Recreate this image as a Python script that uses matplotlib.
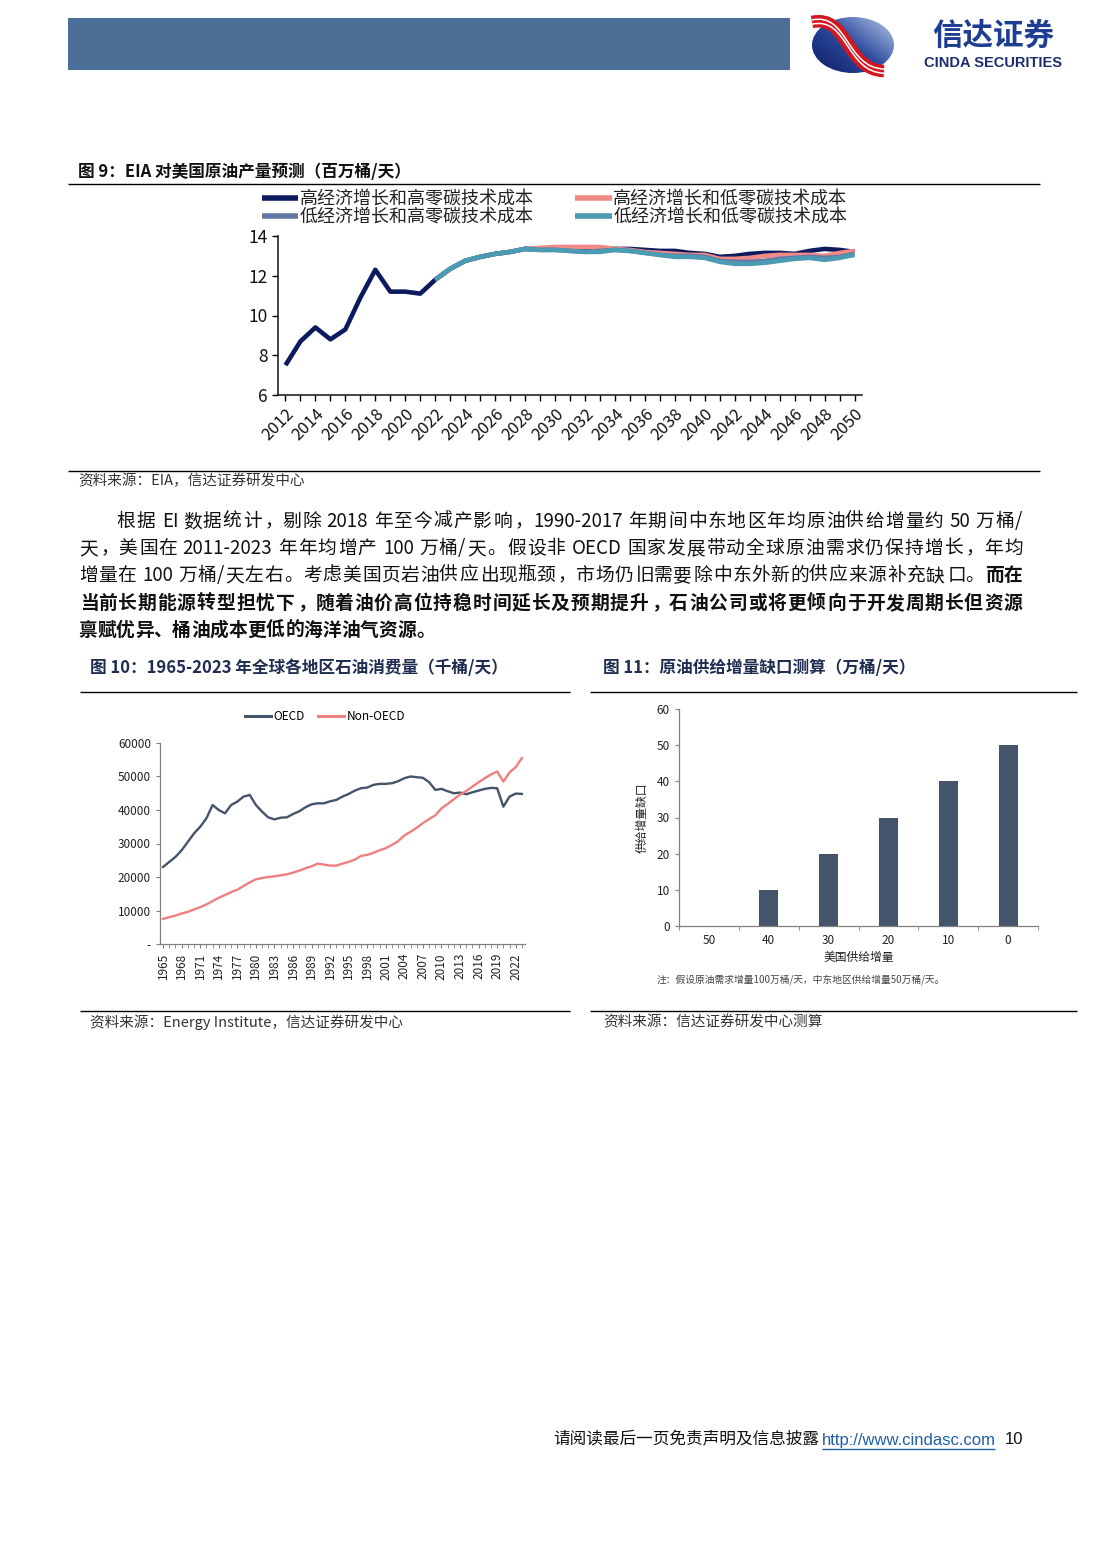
import numpy as np
import matplotlib
matplotlib.use('Agg')
import matplotlib.pyplot as plt
from matplotlib.patches import Rectangle, Ellipse, PathPatch
from matplotlib.path import Path
from matplotlib.colors import LinearSegmentedColormap
from matplotlib.font_manager import FontProperties, findfont, get_font
from matplotlib.ticker import FuncFormatter, MultipleLocator

# ---------------- data ----------------
# Fig 9: EIA US crude production forecast (million b/d)
years9 = list(range(2012, 2051))
hist9 = [7.5, 8.7, 9.4, 8.8, 9.3, 10.9, 12.3, 11.2, 11.2, 11.1, 11.8]          # 2012-2022
proj_years9 = list(range(2022, 2051))
hi_hi = [11.8, 12.35, 12.75, 12.95, 13.1, 13.2, 13.35, 13.35, 13.35, 13.3, 13.3, 13.35, 13.35, 13.35,
         13.3, 13.25, 13.25, 13.15, 13.1, 12.95, 13.0, 13.1, 13.15, 13.15, 13.1, 13.25, 13.35, 13.3, 13.2]
hi_lo = [11.8, 12.35, 12.75, 12.95, 13.1, 13.2, 13.35, 13.4, 13.45, 13.45, 13.45, 13.45, 13.35, 13.3,
         13.2, 13.15, 13.1, 13.05, 13.05, 12.85, 12.85, 12.9, 13.0, 13.05, 13.05, 13.05, 13.0, 13.15, 13.25]
lo_hi = [11.8, 12.35, 12.75, 12.95, 13.1, 13.2, 13.35, 13.3, 13.3, 13.25, 13.2, 13.25, 13.3, 13.25,
         13.15, 13.05, 13.0, 13.0, 12.95, 12.75, 12.7, 12.7, 12.75, 12.85, 12.9, 12.95, 12.9, 12.95, 13.1]
lo_lo = [11.8, 12.35, 12.75, 12.95, 13.1, 13.2, 13.35, 13.3, 13.3, 13.25, 13.2, 13.2, 13.3, 13.25,
         13.15, 13.05, 12.95, 12.95, 12.9, 12.7, 12.6, 12.6, 12.65, 12.75, 12.85, 12.9, 12.8, 12.9, 13.05]
labels9 = ['高经济增长和高零碳技术成本', '高经济增长和低零碳技术成本',
           '低经济增长和高零碳技术成本', '低经济增长和低零碳技术成本']

# Fig 10: oil consumption by region (kb/d)
years10 = list(range(1965, 2024))
oecd = [23000, 24500, 26000, 28000, 30500, 33000, 35000, 37500, 41500, 40000, 39000, 41500, 42500, 44000,
        44500, 41500, 39500, 37800, 37200, 37700, 37800, 38800, 39600, 40800, 41700, 42000, 42000, 42600,
        43000, 44000, 44800, 45800, 46500, 46700, 47500, 47800, 47800, 48000, 48600, 49500, 50000, 49800,
        49600, 48300, 46000, 46300, 45600, 45000, 45200, 44700, 45300, 45800, 46300, 46600, 46500, 41000,
        44000, 44900, 44800]
non_oecd = [7500, 8000, 8500, 9100, 9600, 10300, 11000, 11800, 12800, 13800, 14600, 15500, 16200, 17300,
            18400, 19300, 19700, 20000, 20200, 20500, 20800, 21300, 21900, 22600, 23200, 24000, 23700, 23400,
            23400, 24000, 24500, 25200, 26300, 26600, 27200, 28000, 28600, 29600, 30700, 32400, 33500, 34700,
            36100, 37300, 38400, 40500, 41800, 43200, 44600, 45700, 47000, 48300, 49500, 50600, 51500, 48500,
            51200, 52800, 55500]

# Fig 11: supply gap (10k b/d)
us_supply = ['50', '40', '30', '20', '10', '0']
supply_gap = [0, 10, 20, 30, 40, 50]

# ---------------- figure ----------------
W, H = 1102, 1559
CJK = 'Noto Sans CJK SC'
plt.rcParams['font.family'] = [CJK, 'DejaVu Sans']
plt.rcParams['axes.unicode_minus'] = False

fig = plt.figure(figsize=(W / 100, H / 100), dpi=100)
ov = fig.add_axes([0, 0, 1, 1])
ov.set_xlim(0, W)
ov.set_ylim(H, 0)
ov.axis('off')


def rect(x0, y0, x1, y1):
    return [x0 / W, 1 - y1 / H, (x1 - x0) / W, (y1 - y0) / H]


def hline(x0, x1, y, lw=1.0, color='black'):
    ov.plot([x0, x1], [y, y], color=color, lw=lw, solid_capstyle='butt')


# ---------------- header ----------------
ov.add_patch(Rectangle((68, 18), 722, 52, color='#4C6F98', lw=0))
ell = Ellipse((853, 45), 82, 56, fc='none', ec='none')
ov.add_patch(ell)
gx, gy = np.meshgrid(np.linspace(0, 1, 80), np.linspace(0, 1, 60))
Z = gx * 0.7 + (1 - gy) * 0.6
cmap = LinearSegmentedColormap.from_list('lg', ['#0E1C63', '#2B4A9E', '#B9C7E6'])
im = ov.imshow(Z, extent=(812, 894, 73, 17), cmap=cmap, origin='upper', aspect='auto', zorder=2)
im.set_clip_path(ell)
band_pts = [(812, 22), (848, 14), (846, 70), (884, 71)]
codes = [Path.MOVETO, Path.CURVE4, Path.CURVE4, Path.CURVE4]
ov.add_patch(PathPatch(Path(band_pts, codes), fc='none', ec='#D4161E', lw=9, zorder=3, capstyle='butt'))
for dy in (-2.0, 2.2):
    pts = [(x, y + dy) for x, y in band_pts]
    ov.add_patch(PathPatch(Path(pts, codes), fc='none', ec='white', lw=1.1, zorder=4, capstyle='butt'))
ov.set_xlim(0, W)
ov.set_ylim(H, 0)
ov.text(993, 36, '信达证券', fontsize=22, fontweight='bold', color='#1E3E92', ha='center', va='center')
ov.text(993, 63, 'CINDA SECURITIES', fontsize=10.5, fontweight='bold', family='Liberation Sans',
        color='#1B2D6E', ha='center', va='center')

# ---------------- figure 9 ----------------
ov.text(78, 172, '图 9：EIA 对美国原油产量预测（百万桶/天）', fontsize=12, fontweight='bold',
        color='#111111', va='center')
hline(68, 1040, 184)
hline(68, 1040, 471)
ov.text(78, 481, '资料来源：EIA，信达证券研发中心', fontsize=10.5, color='#333333', va='center')

ax9 = fig.add_axes(rect(278, 236, 862, 395), facecolor='none')
c_hh, c_hl, c_lh, c_ll = '#0D1B5E', '#F08A86', '#6677A6', '#4A9BB3'
lw9 = 3.3
l_hh, = ax9.plot(years9, hist9 + hi_hi[1:], color=c_hh, lw=lw9, solid_joinstyle='round', solid_capstyle='butt')
l_hl, = ax9.plot(proj_years9, hi_lo, color=c_hl, lw=lw9, solid_joinstyle='round', solid_capstyle='butt')
l_lh, = ax9.plot(proj_years9, lo_hi, color=c_lh, lw=lw9, solid_joinstyle='round', solid_capstyle='butt')
l_ll, = ax9.plot(proj_years9, lo_lo, color=c_ll, lw=lw9, solid_joinstyle='round', solid_capstyle='butt')
ax9.set_xlim(2011.5, 2050.5)
ax9.set_ylim(6, 14)
ax9.set_yticks([6, 8, 10, 12, 14])
ax9.set_xticks(range(2012, 2051, 2))
ax9.set_xticks(range(2012, 2051), minor=True)
ax9.set_xticklabels([str(y) for y in range(2012, 2051, 2)], rotation=45, ha='right',
                    rotation_mode='anchor', fontsize=12, color='#111111')
ax9.tick_params(axis='y', labelsize=12.5, labelcolor='#111111', direction='out', length=4, width=1)
ax9.tick_params(axis='x', which='both', direction='out', length=4, width=1)
for s in ['top', 'right']:
    ax9.spines[s].set_visible(False)
for s in ['left', 'bottom']:
    ax9.spines[s].set_linewidth(1.1)
    ax9.spines[s].set_color('#111111')
leg9 = ax9.legend([l_hh, l_lh, l_hl, l_ll], [labels9[0], labels9[2], labels9[1], labels9[3]],
                  ncol=2, loc='upper left', bbox_to_anchor=(262 / W, 1 - 190 / H),
                  bbox_transform=fig.transFigure, frameon=False, fontsize=13, handlelength=2.0,
                  handletextpad=0.1, columnspacing=2.3, labelspacing=0.02, borderpad=0, borderaxespad=0)
for t in leg9.get_texts():
    t.set_color('#222222')
for lh in leg9.get_lines():
    lh.set_linewidth(4)

# ---------------- paragraph ----------------
para = [
    ([("根据 EI 数据统计，剔除 2018 年至今减产影响，1990-2017 年期间中东地区年均原油供给增量约 50 万桶/", 'normal')], 116, True),
    ([("天，美国在 2011-2023 年年均增产 100 万桶/天。假设非 OECD 国家发展带动全球原油需求仍保持增长，年均", 'normal')], 78, True),
    ([("增量在 100 万桶/天左右。考虑美国页岩油供应出现瓶颈，市场仍旧需要除中东外新的供应来源补充缺口。", 'normal'),
      ("而在", 'bold')], 78, True),
    ([("当前长期能源转型担忧下，随着油价高位持稳时间延长及预期提升，石油公司或将更倾向于开发周期长但资源", 'bold')], 78, True),
    ([("禀赋优异、桶油成本更低的海洋油气资源。", 'bold')], 78, False),
]
para_y = [520, 547, 574, 602, 629]
PSIZE = 13.5
PX = PSIZE * 100 / 72


def metrics(s, weight):
    try:
        prop = FontProperties(family=CJK, weight=weight, size=PSIZE)
        font = get_font(findfont(prop))
        font.set_size(PSIZE, 100)
        adv = 0.0
        bear = 0.0
        for i, ch in enumerate(s):
            g = font.load_char(ord(ch))
            if i == 0:
                bear = g.horiBearingX / 64.0
            adv += g.linearHoriAdvance / 65536.0
        return adv, bear
    except Exception:
        return sum(PX if ord(c) > 127 else 0.55 * PX for c in s), 0.0


def draw_line(segments, x0, x1, ybase, justify):
    toks = []
    sp = 0.0
    for text, wt in segments:
        run = ''
        for ch in text:
            if ch == ' ':
                if run:
                    toks.append((run, wt, sp)); run = ''; sp = 0.0
                sp += 0.25 * PX
            elif ord(ch) < 128:
                run += ch
            else:
                if run:
                    toks.append((run, wt, sp)); run = ''; sp = 0.0
                toks.append((ch, wt, sp)); sp = 0.0
        if run:
            toks.append((run, wt, sp)); run = ''; sp = 0.0
    ms = [metrics(s, wt) for s, wt, _ in toks]
    natural = sum(m[0] for m in ms) + sum(t[2] for t in toks[1:])
    extra = (x1 - x0 - natural) / (len(toks) - 1) if justify and len(toks) > 1 else 0.0
    x = x0
    for i, ((s, wt, spc), (adv, bear)) in enumerate(zip(toks, ms)):
        if i > 0:
            x += spc + extra
        ov.text(x + bear, ybase, s, fontsize=PSIZE, fontweight=wt, family=CJK,
                va='baseline', ha='left', color='#111111')
        x += adv


for (segs, xs, just), yc in zip(para, para_y):
    draw_line(segs, xs, 1022, yc + 7, just)

# ---------------- figure 10 ----------------
navy = '#1F2D50'
ov.text(90, 668, '图 10：1965-2023 年全球各地区石油消费量（千桶/天）', fontsize=12, fontweight='bold',
        color=navy, va='center')
hline(80, 570, 692)
hline(80, 570, 1011)
ov.text(90, 1022, '资料来源：Energy Institute，信达证券研发中心', fontsize=10.5, color='#333333', va='center')

ax10 = fig.add_axes(rect(160, 743, 525, 944), facecolor='none')
ax10.plot(years10, oecd, color='#44546A', lw=1.7, label='OECD')
ax10.plot(years10, non_oecd, color='#F07F7F', lw=1.7, label='Non-OECD')
ax10.set_xlim(1964.5, 2023.5)
ax10.set_ylim(0, 60000)
ax10.yaxis.set_major_locator(MultipleLocator(10000))
ax10.yaxis.set_major_formatter(FuncFormatter(lambda v, p: '-' if v == 0 else f'{int(v)}'))
ax10.set_xticks(range(1965, 2024, 3))
ax10.set_xticks(range(1965, 2024), minor=True)
ax10.set_xticklabels([str(y) for y in range(1965, 2024, 3)], rotation=90, fontsize=8.5, color='#222222')
ax10.tick_params(axis='y', labelsize=8.5, labelcolor='#222222', direction='out', length=3, color='#808080')
ax10.tick_params(axis='x', which='both', direction='out', length=3, color='#808080')
for s in ['top', 'right']:
    ax10.spines[s].set_visible(False)
for s in ['left', 'bottom']:
    ax10.spines[s].set_color('#808080')
    ax10.spines[s].set_linewidth(0.9)
leg10 = ax10.legend(ncol=2, loc='center', bbox_to_anchor=(325 / W, 1 - 717 / H),
                    bbox_transform=fig.transFigure, frameon=False, fontsize=8.5,
                    handlelength=2.2, handletextpad=0.2, columnspacing=1.2)
for lh in leg10.get_lines():
    lh.set_linewidth(2.2)

# ---------------- figure 11 ----------------
ov.text(603, 668, '图 11：原油供给增量缺口测算（万桶/天）', fontsize=12, fontweight='bold',
        color=navy, va='center')
hline(590, 1077, 692)
hline(590, 1077, 1011)
ov.text(603, 1022, '资料来源：信达证券研发中心测算', fontsize=10.5, color='#333333', va='center')
ov.text(657, 980, '注：假设原油需求增量100万桶/天，中东地区供给增量50万桶/天。', fontsize=7,
        color='#444444', va='center')

ax11 = fig.add_axes(rect(679, 709, 1038, 926), facecolor='none')
ax11.bar(range(len(us_supply)), supply_gap, width=0.32, color='#44546A')
ax11.set_xlim(-0.5, len(us_supply) - 0.5)
ax11.set_ylim(0, 60)
ax11.yaxis.set_major_locator(MultipleLocator(10))
ax11.set_xticks(range(len(us_supply)))
ax11.set_xticklabels(us_supply, fontsize=8.5, color='#222222')
ax11.set_xticks(np.arange(-0.5, len(us_supply), 1.0), minor=True)
ax11.tick_params(axis='x', which='major', length=0, pad=6)
ax11.tick_params(axis='x', which='minor', direction='out', length=3, color='#808080')
ax11.tick_params(axis='y', labelsize=8.5, labelcolor='#222222', direction='out', length=3, color='#808080')
for s in ['top', 'right']:
    ax11.spines[s].set_visible(False)
for s in ['left', 'bottom']:
    ax11.spines[s].set_color('#808080')
    ax11.spines[s].set_linewidth(0.9)
ax11.set_ylabel('供给增量缺口', fontsize=8.5, color='#222222')
ax11.yaxis.set_label_coords(-0.085, 0.5)
ax11.set_xlabel('美国供给增量', fontsize=8.5, color='#222222')
ax11.xaxis.set_label_coords(0.5, -0.115)

# ---------------- footer ----------------
ov.text(553, 1440, '请阅读最后一页免责声明及信息披露', fontsize=12, color='#111111', va='center')
ov.text(822, 1440, 'http://www.cindasc.com', fontsize=12, family='Liberation Sans', color='#1F5FA8',
        va='center')
hline(822, 995, 1449, lw=1.0, color='#1F5FA8')
ov.text(1005, 1440, '10', fontsize=12, family='Liberation Sans', color='#111111', va='center')

fig.savefig('out.png', dpi=100)
